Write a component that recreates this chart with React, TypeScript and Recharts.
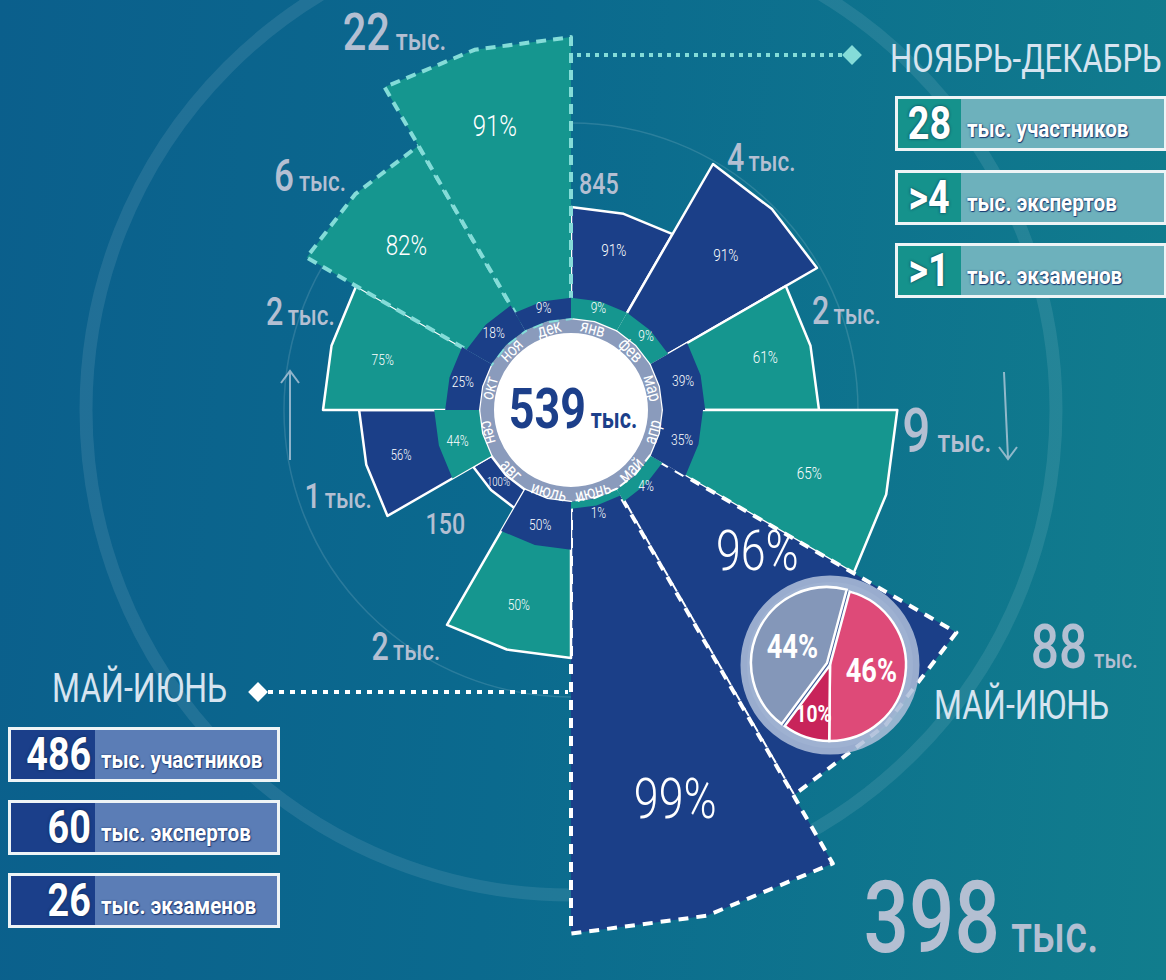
import React from 'react';
import { RadialBarChart, RadialBar, PolarAngleAxis, PolarRadiusAxis, LabelList, PieChart, Pie, Cell } from 'recharts';

// participants by month of the exam calendar (Jan..Dec)
const months = ['янв', 'фев', 'мар', 'апр', 'май', 'июнь', 'июль', 'авг', 'сен', 'окт', 'ноя', 'дек'];
const participants = [845, 4000, 2000, 9000, 88000, 398000, 2000, 150, 1000, 2000, 6000, 22000];
const participantText = ['845', '4', '2', '9', '88', '398', '2', '150', '1', '2', '6', '22'];
const participantUnit = ['', 'тыс.', 'тыс.', 'тыс.', 'тыс.', 'тыс.', 'тыс.', '', 'тыс.', 'тыс.', 'тыс.', 'тыс.'];
const darkShare = [91, 91, 39, 35, 96, 99, 50, 100, 56, 25, 18, 9];
const tealShare = [9, 9, 61, 65, 4, 1, 50, 0, 44, 75, 82, 91];

const totalThousands = '539';
const mayJuneSplit = [46, 10, 44];

const novDecValues = ['28', '>4', '>1'];
const mayJunValues = ['486', '60', '26'];
const factUnits = ['тыс. участников', 'тыс. экспертов', 'тыс. экзаменов'];

const roseData = months.map((month, i) => {
  const darkInside = darkShare[i] <= tealShare[i];
  return {
    month,
    total: participants[i],
    inner: darkInside ? darkShare[i] : tealShare[i],
    outerPct: darkInside ? tealShare[i] : darkShare[i],
    darkOuter: !darkInside,
  };
});
const pieData = mayJuneSplit.map((v, i) => ({ name: `p${i}`, value: v }));

const NAVY = '#1b3f88';
const TEAL = '#15968f';
const MINT = '#84dcd8';
const GREY_TXT = '#b4bfd2';
const FONT = 'Roboto, "Noto Sans", sans-serif';
const SX = 0.8; // squeeze to imitate the condensed face
const CX = 571;
const CY = 410;
const RAD = Math.PI / 180;

// [clockwise nudge, radial pad, number size, unit size]
const totalLabelStyle: Record<string, number[]> = {
  'янв': [-8, 25, 29, 0],
  'фев': [-8, 32, 38, 28],
  'мар': [-5, 45, 38, 28],
  'апр': [-12, 50, 62, 32],
  'май': [-20.3, 120, 62, 26],
  'июнь': [-24, 128, 100, 52],
  'июль': [20, 40, 38, 28],
  'авг': [3, 56, 29, 0],
  'сен': [-5, 36, 36, 28],
  'окт': [5, 40, 38, 28],
  'ноя': [-3, 46, 44, 28],
  'дек': [-10, 45, 52, 30],
};
// [font size, clockwise nudge, radial fraction]
const pctStyle: Record<string, number[]> = {
  'янв': [17, 0, 0.66],
  'фев': [17, 0, 0.66],
  'мар': [17, 0, 0.7],
  'апр': [17, 0, 0.66],
  'май': [56, -8, 0.4],
  'июнь': [56, 0, 0.72],
  'июль': [15, 0, 0.7],
  'авг': [12, 0, 0.5],
  'сен': [14, 0, 0.7],
  'окт': [15, 0, 0.66],
  'ноя': [28, 0, 0.66],
  'дек': [30, 0, 0.72],
};

const polar = (cx: number, cy: number, r: number, a: number) => ({
  x: cx + r * Math.cos(-a * RAD),
  y: cy + r * Math.sin(-a * RAD),
});
const squeeze = (x: number, y: number, rot = 0) => `translate(${x.toFixed(1)} ${y.toFixed(1)}) rotate(${rot}) scale(${SX} 1)`;

const wedgePath = (p: any) => {
  const { cx, cy, innerRadius, outerRadius, startAngle, endAngle } = p;
  const mid = (startAngle + endAngle) / 2;
  const pts = [
    polar(cx, cy, innerRadius, startAngle),
    polar(cx, cy, outerRadius, startAngle),
    polar(cx, cy, outerRadius, mid),
    polar(cx, cy, outerRadius, endAngle),
    polar(cx, cy, innerRadius, endAngle),
    polar(cx, cy, innerRadius, mid),
  ];
  return 'M' + pts.map((q) => `${q.x.toFixed(1)},${q.y.toFixed(1)}`).join('L') + 'Z';
};

const outline = (m: string) => {
  if (m === 'ноя' || m === 'дек') return { stroke: MINT, strokeWidth: 4, strokeDasharray: '10 7' };
  if (m === 'май' || m === 'июнь') return { stroke: '#ffffff', strokeWidth: 4, strokeDasharray: '10 8' };
  return { stroke: '#ffffff', strokeWidth: 2.5 };
};

const OuterWedge = (props: any) => {
  const d = props.payload;
  return <path d={wedgePath(props)} fill={d.darkOuter ? NAVY : TEAL} strokeLinejoin="round" {...outline(d.month)} />;
};

const InnerWedge = (props: any) => {
  const d = props.payload;
  if (!d.inner) return <g />;
  return <path d={wedgePath(props)} fill={d.darkOuter ? TEAL : NAVY} />;
};

const TotalLabel = (props: any) => {
  const { viewBox, index } = props;
  const d = roseData[index];
  const [nudge, pad, fs, us] = totalLabelStyle[d.month];
  const a = (viewBox.startAngle + viewBox.endAngle) / 2 - nudge;
  const p = polar(viewBox.cx, viewBox.cy, viewBox.outerRadius + pad, a);
  const unit = participantUnit[index];
  return (
    <text transform={squeeze(p.x, p.y + fs * 0.36)} textAnchor="middle" fill={GREY_TXT} fontFamily={FONT}>
      <tspan fontSize={fs} fontWeight={500}>{participantText[index]}</tspan>
      {unit ? <tspan fontSize={us} fontWeight={500} dx={fs * 0.14}>{unit}</tspan> : null}
    </text>
  );
};

const OuterPctLabel = (props: any) => {
  const { viewBox, index } = props;
  const d = roseData[index];
  const [fs, nudge, f] = pctStyle[d.month];
  const a = (viewBox.startAngle + viewBox.endAngle) / 2 - nudge;
  const r = viewBox.innerRadius + f * (viewBox.outerRadius - viewBox.innerRadius);
  const p = polar(viewBox.cx, viewBox.cy, r, a);
  return (
    <text transform={squeeze(p.x, p.y)} textAnchor="middle" dominantBaseline="central" fill="#ffffff" fontSize={fs} fontWeight={300} fontFamily={FONT}>
      {d.outerPct}%
    </text>
  );
};

const InnerPctLabel = (props: any) => {
  const { viewBox, index } = props;
  const d = roseData[index];
  if (!d.inner) return null;
  const a = (viewBox.startAngle + viewBox.endAngle) / 2;
  const r = Math.max((viewBox.innerRadius + viewBox.outerRadius) / 2 + 3, 106);
  const p = polar(viewBox.cx, viewBox.cy, r, a);
  return (
    <text transform={squeeze(p.x, p.y)} textAnchor="middle" dominantBaseline="central" fill="#ffffff" fontSize={15} fontWeight={300} fontFamily={FONT}>
      {d.inner}%
    </text>
  );
};

// month names sit on the grey ring, centred in their band
const MonthTick = (props: any) => {
  const { payload } = props;
  const a = payload.coordinate + 15;
  const p = polar(CX, CY, 84.5, a);
  let t = (90 - a) % 360;
  if (t < 0) t += 360;
  let rot = t > 90 && t < 270 ? t - 180 : t;
  if (rot > 180) rot -= 360;
  return (
    <text transform={squeeze(p.x, p.y, rot)} textAnchor="middle" dominantBaseline="central" fill="#ffffff" fontSize={18} fontFamily={FONT}>
      {payload.value}
    </text>
  );
};

const pieColors = ['#de4a78', '#c8245a', '#8497b9'];

const PieLabel = (props: any) => {
  const { cx, cy, midAngle, outerRadius, index, value } = props;
  const p = polar(cx, cy, outerRadius * (index === 1 ? 0.68 : 0.55), midAngle);
  return (
    <text transform={squeeze(p.x, p.y)} textAnchor="middle" dominantBaseline="central" fill="#ffffff" fontWeight={700} fontSize={index === 1 ? 24 : 34} fontFamily={FONT}>
      {value}%
    </text>
  );
};

const Squeezed = ({ children, origin = '0 50%', sx = SX }: any) => (
  <span style={{ display: 'inline-block', transform: `scaleX(${sx})`, transformOrigin: origin, whiteSpace: 'nowrap' }}>{children}</span>
);

const FactBox = ({ left, top, value, unit, dark, light, numW, alignRight }: any) => (
  <div style={{ position: 'absolute', left, top, width: 272, height: 55, boxSizing: 'border-box', border: '3px solid #eef4f6', display: 'flex', overflow: 'hidden' }}>
    <div style={{ width: numW, flex: 'none', background: dark, color: '#fff', fontFamily: FONT, fontWeight: 700, fontSize: 46, lineHeight: '49px', textAlign: alignRight ? 'right' : 'center', paddingRight: alignRight ? 4 : 0, boxSizing: 'border-box', textShadow: '0 0 3px rgba(10,40,70,0.9)' }}>
      <Squeezed origin={alignRight ? '100% 50%' : '50% 50%'} sx={0.82}>{value}</Squeezed>
    </div>
    <div style={{ flex: 1, background: light, color: '#fff', fontFamily: FONT, fontWeight: 700, fontSize: 24, paddingTop: 16, paddingLeft: 6, whiteSpace: 'nowrap', textShadow: '0 0 2px rgba(20,50,110,0.9), 1px 1px 1px rgba(20,50,110,0.9)' }}>
      <Squeezed sx={0.86}>{unit}</Squeezed>
    </div>
  </div>
);

export default function App() {
  return (
    <div style={{ position: 'absolute', left: 0, top: 0, width: 1166, height: 980, overflow: 'hidden', background: 'linear-gradient(95deg, #0b5f8c 0%, #0b6a8e 45%, #117d8d 100%)' }}>
      <svg width={1166} height={980} style={{ position: 'absolute', left: 0, top: 0 }}>
        <circle cx={CX} cy={CY} r={485} fill="none" stroke="rgba(255,255,255,0.09)" strokeWidth={13} />
        <circle cx={CX} cy={CY} r={287} fill="none" stroke="rgba(255,255,255,0.13)" strokeWidth={1.5} />
        <path d="M290 460 L290 371 M281 383 L290 371 L299 383" fill="none" stroke="rgba(200,212,228,0.7)" strokeWidth={2} />
        <path d="M1004 372 L1008 458 M999 447 L1008 459 L1017 447" fill="none" stroke="rgba(200,212,228,0.7)" strokeWidth={2} />
        <circle cx={CX} cy={CY} r={84.5} fill="#ffffff" stroke="#8a9bbc" strokeWidth={15} />
      </svg>

      <div style={{ position: 'absolute', left: 0, top: 0 }}>
        <RadialBarChart
          width={1166}
          height={980}
          data={roseData}
          layout="centric"
          cx={CX}
          cy={CY}
          innerRadius={92}
          outerRadius={545}
          startAngle={60}
          endAngle={-300}
          barCategoryGap={0}
          margin={{ top: 0, right: 0, bottom: 0, left: 0 }}
        >
          <PolarRadiusAxis radiusAxisId="total" type="number" scale="log" domain={[100, 600000]} allowDataOverflow tick={false} axisLine={false} />
          <PolarRadiusAxis radiusAxisId="share" type="number" scale="sqrt" domain={[0, 4500]} allowDataOverflow tick={false} axisLine={false} />
          <PolarAngleAxis angleAxisId="inner" dataKey="month" type="category" tick={false} axisLine={false} tickLine={false} />
          <RadialBar dataKey="total" angleAxisId="months" radiusAxisId="total" shape={OuterWedge} isAnimationActive={false}>
            <LabelList dataKey="total" content={TotalLabel} />
            <LabelList dataKey="outerPct" content={OuterPctLabel} />
          </RadialBar>
          <RadialBar dataKey="inner" angleAxisId="inner" radiusAxisId="share" shape={InnerWedge} isAnimationActive={false}>
            <LabelList dataKey="inner" content={InnerPctLabel} />
          </RadialBar>
          <PolarAngleAxis angleAxisId="months" dataKey="month" type="category" tickLine={false} axisLine={false} tick={MonthTick} />
        </RadialBarChart>
      </div>

      <svg width={1166} height={980} style={{ position: 'absolute', left: 0, top: 0, pointerEvents: 'none' }}>
        <text transform={squeeze(CX + 2, CY + 18)} textAnchor="middle" fill="#1c3f8a" fontFamily={FONT} fontWeight={700}>
          <tspan fontSize={56}>{totalThousands}</tspan>
          <tspan fontSize={27} dx={6}>тыс.</tspan>
        </text>
        <line x1={577} y1={55} x2={842} y2={55} stroke={MINT} strokeWidth={4} strokeDasharray="4 5" />
        <rect x={845} y={48} width={14} height={14} fill={MINT} transform="rotate(45 852 55)" />
        <line x1={268} y1={692} x2={568} y2={692} stroke="#ffffff" strokeWidth={4} strokeDasharray="5 6" />
        <rect x={251} y={685} width={14} height={14} fill="#ffffff" transform="rotate(45 258 692)" />
        <circle cx={830} cy={665} r={83} fill="rgba(130,150,185,0.35)" stroke="rgba(175,192,218,0.85)" strokeWidth={13} />
      </svg>

      <div style={{ position: 'absolute', left: 730, top: 565 }}>
        <PieChart width={200} height={200} margin={{ top: 0, right: 0, bottom: 0, left: 0 }}>
          <Pie
            data={pieData}
            dataKey="value"
            cx={100}
            cy={100}
            outerRadius={76}
            startAngle={75}
            endAngle={-285}
            stroke="#ffffff"
            strokeWidth={2.5}
            label={PieLabel}
            labelLine={false}
            isAnimationActive={false}
          >
            {pieData.map((e, i) => (
              <Cell key={e.name} fill={pieColors[i]} style={i === 2 ? { transform: 'translate(-3px,-2px)' } : undefined} />
            ))}
          </Pie>
        </PieChart>
      </div>

      <div style={{ position: 'absolute', left: 890, top: 36, color: '#d6e4f0', fontFamily: FONT, fontSize: 39 }}>
        <Squeezed>НОЯБРЬ-ДЕКАБРЬ</Squeezed>
      </div>
      <div style={{ position: 'absolute', left: 52, top: 665, color: '#d6e4f0', fontFamily: FONT, fontSize: 40 }}>
        <Squeezed>МАЙ-ИЮНЬ</Squeezed>
      </div>
      <div style={{ position: 'absolute', left: 934, top: 682, color: '#d6e4f0', fontFamily: FONT, fontSize: 40 }}>
        <Squeezed>МАЙ-ИЮНЬ</Squeezed>
      </div>

      {novDecValues.map((v, i) => (
        <FactBox key={v} left={895} top={96 + i * 73.5} value={v} unit={factUnits[i]} dark="#15928c" light="#6db1bc" numW={63} />
      ))}
      {mayJunValues.map((v, i) => (
        <FactBox key={v} left={8} top={727 + i * 73} value={v} unit={factUnits[i]} dark="#1b3f8a" light="#5b7db6" numW={84} alignRight />
      ))}
    </div>
  );
}
